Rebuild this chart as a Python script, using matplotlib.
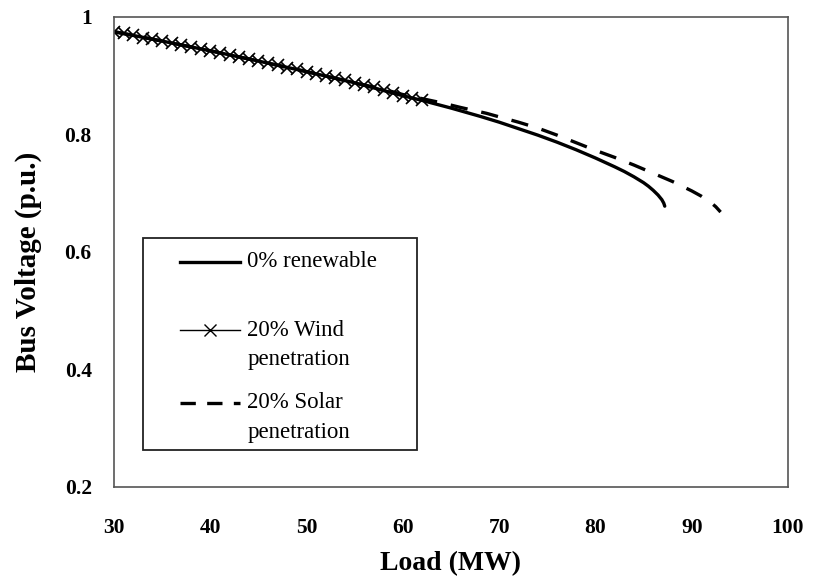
import matplotlib
matplotlib.use("Agg")
import matplotlib.pyplot as plt
from matplotlib.patches import Rectangle
from matplotlib.lines import Line2D

# data
load_base = [30, 35, 40, 45, 50, 55, 60, 62, 65, 68, 70, 72, 74, 76, 78, 80, 82, 83,
             84, 85, 85.5, 86, 86.5, 86.9, 87.1, 87.2]
volt_base = [0.975, 0.959, 0.9425, 0.925, 0.907, 0.888, 0.866, 0.858, 0.845, 0.831,
             0.821, 0.810, 0.799, 0.787, 0.774, 0.760, 0.745, 0.737, 0.728, 0.718,
             0.712, 0.705, 0.697, 0.689, 0.683, 0.678]

load_wind = [30, 31, 32, 33, 34, 35, 36, 37, 38, 39, 40, 41, 42, 43, 44, 45, 46,
             47, 48, 49, 50, 51, 52, 53, 54, 55, 56, 57, 58, 59, 60, 61, 62]
volt_wind = [0.975, 0.972, 0.969, 0.965, 0.962, 0.959, 0.956, 0.952, 0.949, 0.946,
             0.9425, 0.939, 0.936, 0.932, 0.929, 0.925, 0.921, 0.918, 0.914, 0.911,
             0.907, 0.903, 0.899, 0.896, 0.892, 0.888, 0.884, 0.880, 0.876, 0.871,
             0.866, 0.862, 0.858]

load_solar = [30, 35, 40, 45, 50, 55, 58, 60, 62, 64, 66, 68.7, 70, 72, 74, 76, 78,
              80, 82, 84, 86, 88, 89, 90, 91, 92, 92.5, 93]
volt_solar = [0.975, 0.959, 0.9425, 0.925, 0.907, 0.888, 0.877, 0.868, 0.861, 0.854,
              0.846, 0.836, 0.830, 0.821, 0.811, 0.799, 0.786, 0.773, 0.761, 0.748,
              0.734, 0.720, 0.712, 0.704, 0.695, 0.684, 0.677, 0.668]

xticks = [30, 40, 50, 60, 70, 80, 90, 100]
yticks = [0.2, 0.4, 0.6, 0.8, 1.0]
ytick_labels = ["0.2", "0.4", "0.6", "0.8", "1"]

legend_labels = ["0% renewable", "20% Wind\npenetration", "20% Solar\npenetration"]

serif = ["Liberation Serif", "DejaVu Serif"]
dash = (5.2, 4.2)

fig = plt.figure(figsize=(8.17, 5.88), dpi=100)
ax = fig.add_axes([0.1395, 0.1718, 0.825, 0.7993])

ax.plot(load_base, volt_base, color="black", lw=2.4, solid_capstyle="round",
        solid_joinstyle="round")
ax.plot(load_solar, volt_solar, color="black", lw=2.4, dashes=dash)
ax.plot(load_wind, volt_wind, color="black", lw=1.2, marker="x", ms=9, mew=1.2)

ax.set_xlim(30, 100)
ax.set_ylim(0.2, 1.0)
ax.set_xticks(xticks)
ax.set_xticklabels([str(t) for t in xticks])
ax.set_yticks(yticks)
ax.set_yticklabels(ytick_labels)
ax.tick_params(length=0, labelsize=15.5)
ax.tick_params(axis="x", pad=22)
ax.tick_params(axis="y", pad=16)
for lab in ax.get_xticklabels() + ax.get_yticklabels():
    lab.set_family(serif)
    lab.set_fontweight("bold")

for sp in ax.spines.values():
    sp.set_color("#555555")
    sp.set_linewidth(1.2)

ax.set_xlabel("Load (MW)", family=serif, fontweight="bold", fontsize=20, labelpad=10)
ax.set_ylabel("Bus Voltage (p.u.)", family=serif, fontweight="bold", fontsize=21)
ax.yaxis.set_label_coords(-0.107, 0.479)

# hand-drawn legend box like the original
ax.add_patch(Rectangle((0.043, 0.079), 0.407, 0.451, transform=ax.transAxes,
                       fill=False, edgecolor="#222222", lw=1.3, zorder=5))
entry_y = [0.479, 0.334, 0.179]
styles = [dict(lw=2.4), dict(lw=1.0, marker="x", ms=8, mew=1.0, markevery=[1]),
          dict(lw=2.4, dashes=(4.6, 3.4))]
for y, lab, st in zip(entry_y, legend_labels, styles):
    ax.add_line(Line2D([0.098, 0.1425, 0.187], [y, y, y], transform=ax.transAxes,
                       color="black", zorder=6, **st))
    for i, line in enumerate(lab.split("\n")):
        ax.text(0.198, y - i * 0.063, line, transform=ax.transAxes, family=serif,
                fontsize=16.5, va="center", ha="left", zorder=6)

fig.savefig("out.png", dpi=100)
